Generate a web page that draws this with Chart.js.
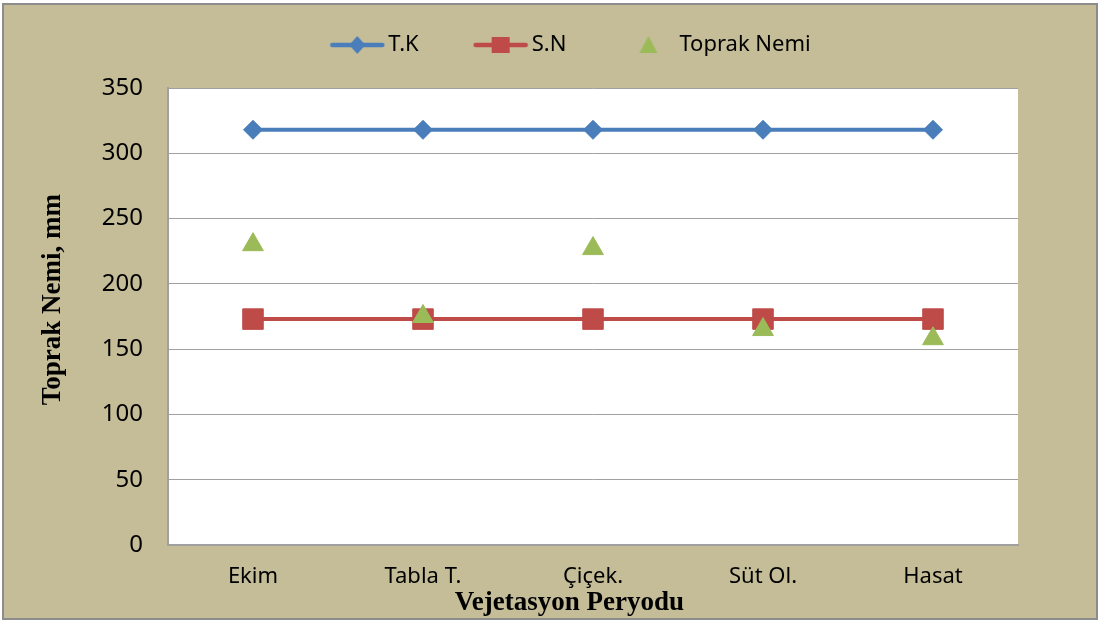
<!DOCTYPE html>
<html lang="tr">
<head>
    <meta charset="UTF-8">
    <title>Toprak Nemi</title>
    <script src="https://cdn.jsdelivr.net/npm/chart.js"></script>
    <style>
        body { margin: 0; background: #fff; }
        #wrap { width: 1100px; height: 623px; }
    </style>
</head>
<body>
    <div id="wrap"><canvas id="nemChart" width="1100" height="623"></canvas></div>
    <script>
        const categories = ['Ekim', 'Tabla T.', 'Çiçek.', 'Süt Ol.', 'Hasat'];
        const tkValues = [318, 318, 318, 318, 318];
        const snValues = [173, 173, 173, 173, 173];
        const toprakNemiValues = [230, 175, 227, 165, 158];
        const seriesNames = ['T.K', 'S.N', 'Toprak Nemi'];
        const yMin = 0, yMax = 350, yStep = 50;

        const blue = '#4a7ebb', red = '#be4b48', green = '#9bbb59';
        const gridGray = '#a0a0a0';
        const titleFont = { family: 'Liberation Serif', size: 27, weight: 'bold' };

        // small canvas used as legend symbol: line + marker like Excel
        function legendSwatch(color, marker, withLine) {
            let c = document.createElement('canvas');
            c.width = 108; c.height = 24;
            let g = c.getContext('2d');
            let cx = 80, cy = 12;
            g.fillStyle = color;
            g.strokeStyle = color;
            if (withLine) {
                g.lineWidth = 4.5;
                g.lineCap = 'round';
                g.beginPath(); g.moveTo(55, cy); g.lineTo(105, cy); g.stroke();
            }
            g.beginPath();
            if (marker === 'diamond') {
                g.moveTo(cx, cy - 9); g.lineTo(cx + 8, cy); g.lineTo(cx, cy + 9); g.lineTo(cx - 8, cy);
            } else if (marker === 'square') {
                g.rect(cx - 9, cy - 8, 18, 16);
            } else {
                g.moveTo(cx, cy - 9); g.lineTo(cx + 9, cy + 8); g.lineTo(cx - 9, cy + 8);
            }
            g.closePath();
            g.fill();
            return c;
        }
        const swatches = [
            legendSwatch(blue, 'diamond', true),
            legendSwatch(red, 'square', true),
            legendSwatch(green, 'triangle', false)
        ];

        const framePlugin = {
            id: 'frame',
            beforeDraw(chart) {
                let { ctx, chartArea: a } = chart;
                ctx.save();
                ctx.fillStyle = '#fff';
                ctx.fillRect(0, 0, chart.width, chart.height);
                ctx.fillStyle = '#c4bd97';
                ctx.fillRect(3, 4, 1094, 615);
                ctx.strokeStyle = '#8c8c8c';
                ctx.lineWidth = 2;
                ctx.strokeRect(3, 4, 1094, 615);
                ctx.fillStyle = '#fff';
                ctx.fillRect(a.left, a.top, a.right - a.left, a.bottom - a.top);
                ctx.restore();
            }
        };

        Chart.defaults.font.family = "'Noto Sans', sans-serif";
        Chart.defaults.color = '#000';

        new Chart(document.getElementById('nemChart'), {
            type: 'line',
            data: {
                labels: categories,
                datasets: [
                    { label: seriesNames[0], data: tkValues, borderColor: blue, backgroundColor: blue,
                      borderWidth: 4, pointStyle: 'rectRot', pointRadius: 9.5, pointBorderWidth: 1, order: 2 },
                    { label: seriesNames[1], data: snValues, borderColor: red, backgroundColor: red,
                      borderWidth: 4, pointStyle: 'rect', pointRadius: 14.5, pointBorderWidth: 1, order: 1 },
                    { label: seriesNames[2], data: toprakNemiValues, showLine: false, borderColor: green, backgroundColor: green,
                      pointStyle: 'triangle', pointRadius: 12, pointBorderWidth: 1, order: 0 }
                ]
            },
            options: {
                responsive: false,
                animation: false,
                layout: { padding: { left: 6, right: 10, top: 24, bottom: 4 } },
                scales: {
                    x: {
                        offset: true,
                        grid: { display: false, drawTicks: false },
                        border: { color: gridGray, width: 2 },
                        ticks: { padding: 19, font: { size: 22 } },
                        title: { display: true, text: 'Vejetasyon Peryodu       ', font: titleFont, padding: { top: 0, bottom: 0 } },
                        afterFit(scale) { scale.height = 74; }
                    },
                    y: {
                        min: yMin, max: yMax,
                        ticks: { stepSize: yStep, padding: 25, font: { size: 24 } },
                        grid: { color: gridGray, drawTicks: false },
                        border: { color: gridGray, width: 2 },
                        title: { display: true, text: '     Toprak Nemi, mm', font: titleFont, padding: { top: 31, bottom: 0 } },
                        afterFit(scale) { scale.width = 162; }
                    },
                    // empty spacer axes so the plot area sits where Excel put it
                    xTop: {
                        type: 'linear', position: 'top',
                        grid: { display: false, drawTicks: false }, border: { display: false }, ticks: { display: false },
                        afterFit(scale) { scale.height = 22; }
                    },
                    yRight: {
                        type: 'linear', position: 'right',
                        grid: { display: false, drawTicks: false }, border: { display: false }, ticks: { display: false },
                        afterFit(scale) { scale.width = 72; }
                    }
                },
                plugins: {
                    tooltip: { enabled: false },
                    legend: {
                        position: 'top',
                        labels: {
                            usePointStyle: true,
                            pointStyleWidth: 92,
                            padding: 10,
                            font: { size: 22 },
                            generateLabels(chart) {
                                return chart.data.datasets.map((ds, i) => ({
                                    text: ds.label,
                                    pointStyle: swatches[i],
                                    fillStyle: ds.backgroundColor,
                                    strokeStyle: ds.borderColor,
                                    lineWidth: 0,
                                    hidden: false,
                                    datasetIndex: i
                                }));
                            }
                        }
                    }
                }
            },
            plugins: [framePlugin]
        });
    </script>
</body>
</html>
